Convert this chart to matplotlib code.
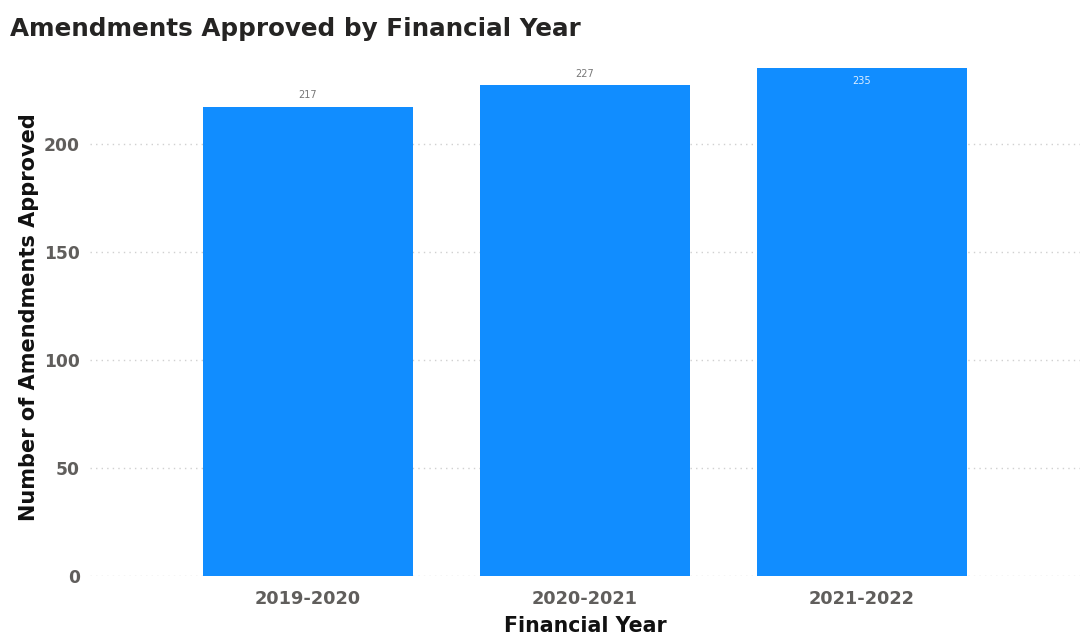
import matplotlib
matplotlib.use('Agg')
import matplotlib.pyplot as plt

# Data
years = ['2019-2020', '2020-2021', '2021-2022']
approved = [217, 227, 235]
y_ticks = [0, 50, 100, 150, 200]

plt.rcParams['font.family'] = ['DejaVu Sans']

fig = plt.figure(figsize=(10.8, 6.42), dpi=100)
ax = fig.add_axes([0.083, 0.103, 0.917, 0.791])

x = range(len(years))
bars = ax.bar(x, approved, width=0.758, color='#118DFF', zorder=2)

# Value labels: above the bar when there is room, inside otherwise
for i, v in enumerate(approved):
    if v < 230:
        ax.text(i, v + 3, str(v), ha='center', va='bottom', fontsize=7, color='#777777')
    else:
        ax.text(i, v - 3.5, str(v), ha='center', va='top', fontsize=7, color='#DDEEFF')

ax.set_xlim(-0.787, 2.787)
ax.set_ylim(0, 235)
ax.set_xticks(list(x))
ax.set_xticklabels(years, fontsize=12.8, fontweight='bold', color='#605E5C')
ax.set_yticks(y_ticks)
ax.set_yticklabels([str(t) for t in y_ticks], fontsize=12.3, fontweight='bold', color='#605E5C')
ax.tick_params(axis='y', length=0, pad=7)
ax.tick_params(axis='x', length=0, pad=10)
ax.grid(axis='y', linestyle=(0, (1, 3)), color='#D0D0D0', linewidth=1, zorder=0)
for s in ax.spines.values():
    s.set_visible(False)

ax.set_xlabel('Financial Year', fontsize=14.8, fontweight='bold', color='#111111', labelpad=6)
ax.set_ylabel('Number of Amendments Approved', fontsize=15, fontweight='bold', color='#111111')
ax.yaxis.set_label_coords(-0.051, 0.51)

fig.text(0.009, 0.955, 'Amendments Approved by Financial Year', fontsize=17.7, fontweight='bold',
         color='#252423', ha='left', va='center')

fig.savefig('out.png', dpi=100)
